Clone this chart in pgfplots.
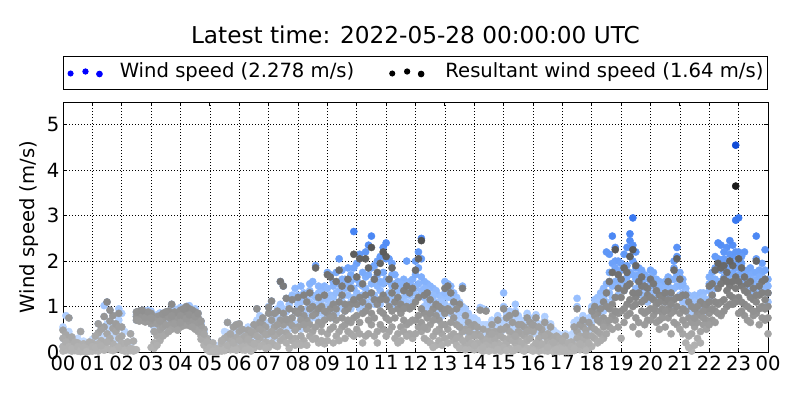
\documentclass[border=0pt]{standalone}
\usepackage{fontspec}
\setmainfont{DejaVu Sans}
\usepackage{pgfplots}
\usepackage{pgfplotstable}
\pgfplotsset{compat=1.18}

\newcommand\fs{\fontsize{19.6}{23.5}\selectfont}

% colour follows the value; point meta runs 0..8 on both maps
\pgfplotsset{
  colormap={wsgray}{rgb255(0cm)=(182,182,182) rgb255(1cm)=(100,100,100) rgb255(2cm)=(10,10,10)
    rgb255(3cm)=(0,0,0) rgb255(4cm)=(0,0,0)},
  colormap={wsblue}{rgb255(0cm)=(205,225,255) rgb255(1cm)=(173,205,255) rgb255(2cm)=(129,176,252)
    rgb255(3cm)=(83,142,246) rgb255(4cm)=(45,110,237) rgb255(5cm)=(27,89,224) rgb255(6cm)=(11,68,211)
    rgb255(7cm)=(0,50,200) rgb255(8cm)=(0,50,200) rgb255(9cm)=(0,50,200) rgb255(10cm)=(0,50,200)},
  wsmark/.style={scatter, only marks, mark=*, mark size=3.6pt,
    scatter/use mapped color={draw=mapped color, fill=mapped color}},
}

% resultant wind speed, four readings per 6 minutes
\pgfplotstableread{
x a b c d
0.0 0.02 0.48 0.12 0.30
0.1 0.10 0.04 0.38 0.22
0.2 0.05 0.28 0.75 0.12
0.3 0.18 0.02 0.33 0.08
0.4 0.03 0.14 0.06 0.22
0.5 0.08 0.20 0.02 0.12
0.6 0.01 0.10 0.45 0.04
0.7 0.06 0.02 0.18 0.11
0.8 0.12 0.04 0.08 0.01
0.9 0.02 0.15 0.05 0.22
1.0 0.05 0.20 0.02 0.12
1.1 0.15 0.03 0.35 0.10
1.2 0.02 0.42 0.18 0.62
1.3 0.25 0.06 0.50 0.14
1.4 0.10 0.55 0.04 0.78
1.5 0.40 0.08 1.10 0.22
1.6 0.05 0.68 0.30 0.92
1.7 0.52 0.18 0.80 0.03
1.8 0.12 0.45 0.06 0.62
1.9 0.30 0.85 0.10 0.55
2.0 0.20 0.04 0.55 0.35
2.1 0.06 0.02 0.18 0.04
2.2 0.03 0.05 0.22 0.02
2.3 0.05 0.40 0.03 0.08
2.4 0.02 0.06 0.04 0.24
2.5 0.78 0.05 0.88 0.70
2.6 0.85 0.72 0.90 0.68
2.7 0.70 0.88 0.78 0.92
2.8 0.82 0.66 0.86 0.76
2.9 0.74 0.84 0.68 0.88
3.0 0.62 0.85 0.10 0.75
3.1 0.20 0.70 0.45 0.08
3.2 0.78 0.35 0.62 0.15
3.3 0.48 0.80 0.25 0.68
3.4 0.72 0.55 0.85 0.35
3.5 0.40 0.82 0.60 0.88
3.6 0.90 0.58 0.76 0.45
3.7 0.65 1.05 0.50 0.80
3.8 0.78 0.55 0.88 0.62
3.9 0.60 0.85 0.72 0.48
4.0 0.92 0.55 0.80 0.65
4.1 0.70 0.88 0.58 0.95
4.2 0.85 0.60 1.00 0.74
4.3 0.58 0.95 0.68 0.82
4.4 0.80 0.66 0.92 0.55
4.5 0.62 0.88 0.50 0.78
4.6 0.75 0.45 0.65 0.85
4.7 0.35 0.58 0.28 0.68
4.8 0.50 0.22 0.40 0.15
4.9 0.12 0.30 0.05 0.22
5.0 0.02 0.06 0.01 0.10
5.1 0.04 0.01 0.20 0.02
5.2 0.01 0.03 0.08 0.02
5.3 0.03 0.06 0.02 0.04
5.4 0.05 0.18 0.02 0.25
5.5 0.12 0.03 0.30 0.06
5.6 0.35 0.08 0.65 0.15
5.7 0.05 0.25 0.12 0.40
5.8 0.28 0.55 0.06 0.20
5.9 0.10 0.32 0.60 0.04
6.0 0.45 0.08 0.62 0.25
6.1 0.05 0.30 0.12 0.50
6.2 0.25 0.10 0.35 0.04
6.3 0.15 0.48 0.06 0.28
6.4 0.38 0.02 0.22 0.45
6.5 0.08 0.42 0.60 0.18
6.6 0.55 0.20 0.95 0.35
6.7 0.30 0.65 0.12 0.50
6.8 0.60 0.15 0.45 0.75
6.9 0.22 0.55 0.38 0.08
7.0 0.40 0.85 0.10 0.98
7.1 0.70 0.20 1.12 0.45
7.2 0.15 0.55 0.35 0.85
7.3 0.90 0.40 0.12 0.60
7.4 0.25 1.55 0.70 0.45
7.5 0.60 0.30 1.45 0.85
7.6 0.42 1.18 0.20 0.72
7.7 0.08 0.65 0.95 0.35
7.8 0.75 0.25 0.58 1.15
7.9 0.30 0.90 0.48 0.15
8.0 0.55 1.20 0.20 0.85
8.1 0.95 0.35 0.70 0.15
8.2 0.25 0.80 1.25 0.60
8.3 0.70 0.15 0.50 1.10
8.4 1.30 0.60 0.35 0.95
8.5 0.45 1.00 0.80 0.28
8.6 0.85 0.30 1.85 0.55
8.7 0.20 0.95 0.65 1.20
8.8 0.60 0.45 1.00 0.25
8.9 1.25 0.70 0.18 0.90
9.0 0.40 1.70 0.85 0.25
9.1 0.95 0.50 1.65 0.75
9.2 0.20 0.80 1.05 0.55
9.3 0.70 1.55 0.35 0.95
9.4 1.10 0.45 1.80 0.25
9.5 0.55 1.25 0.75 1.45
9.6 0.90 0.30 0.60 1.05
9.7 0.45 1.60 0.95 0.70
9.8 1.05 0.65 0.40 1.40
9.9 0.75 2.15 1.15 0.35
10.0 0.50 1.05 1.65 0.80
10.1 1.20 0.40 2.05 0.65
10.2 0.85 1.50 0.20 1.10
10.3 0.35 0.90 1.25 2.05
10.4 1.00 0.70 1.85 0.40
10.5 0.60 2.30 0.85 1.30
10.6 1.15 0.35 0.75 1.60
10.7 0.45 1.05 1.75 0.20
10.8 0.90 1.95 0.60 1.15
10.9 1.25 0.50 2.20 0.85
11.0 0.75 2.10 0.35 1.15
11.1 1.00 0.45 1.60 0.70
11.2 0.55 1.85 0.90 1.30
11.3 1.10 0.30 0.75 1.45
11.4 0.40 0.95 1.20 0.20
11.5 0.85 0.55 0.25 1.05
11.6 1.35 0.70 0.45 0.95
11.7 0.60 1.45 1.00 0.35
11.8 0.95 0.40 1.30 0.65
11.9 0.30 1.00 0.70 1.40
12.0 0.70 1.80 0.40 1.10
12.1 1.20 0.55 2.05 0.80
12.2 0.45 2.45 0.95 0.65
12.3 0.85 0.30 1.25 0.55
12.4 0.25 0.75 0.50 1.30
12.5 0.60 1.15 0.20 0.85
12.6 0.95 0.35 0.70 0.10
12.7 0.15 0.80 1.05 0.45
12.8 0.70 0.25 0.50 1.00
12.9 0.40 0.95 0.15 0.60
13.0 0.85 1.40 0.30 0.60
13.1 0.50 0.95 1.45 0.20
13.2 1.30 0.35 0.65 0.90
13.3 0.25 0.75 1.10 0.40
13.4 0.60 0.15 0.95 0.30
13.5 0.35 1.05 0.08 0.55
13.6 0.10 0.45 1.40 0.25
13.7 0.50 0.20 0.80 0.05
13.8 0.15 0.65 0.30 0.45
13.9 0.40 0.08 0.55 0.20
14.0 0.05 0.35 0.60 0.15
14.1 0.40 0.10 0.20 0.55
14.2 0.18 0.92 0.05 0.35
14.3 0.28 0.02 0.50 0.10
14.4 0.04 0.25 0.15 0.90
14.5 0.35 0.12 0.45 0.02
14.6 0.10 0.60 0.25 0.40
14.7 0.45 0.03 0.30 0.15
14.8 0.20 0.38 0.70 0.06
14.9 0.02 0.15 0.35 0.50
15.0 0.30 0.95 0.10 0.50
15.1 0.55 0.20 0.75 0.03
15.2 0.08 0.45 0.30 0.80
15.3 0.40 0.02 0.65 0.25
15.4 0.18 0.85 0.05 0.35
15.5 0.60 0.25 0.45 0.08
15.6 0.05 0.40 0.20 0.60
15.7 0.35 0.12 0.55 0.02
15.8 0.25 0.75 0.08 0.45
15.9 0.50 0.05 0.30 0.65
16.0 0.12 0.45 0.02 0.60
16.1 0.55 0.08 0.75 0.20
16.2 0.02 0.30 0.15 0.55
16.3 0.40 0.05 0.50 0.18
16.4 0.15 0.65 0.03 0.35
16.5 0.25 0.02 0.40 0.10
16.6 0.05 0.35 0.18 0.55
16.7 0.30 0.08 0.22 0.01
16.8 0.02 0.18 0.35 0.06
16.9 0.12 0.01 0.08 0.30
17.0 0.02 0.15 0.05 0.25
17.1 0.08 0.01 0.35 0.04
17.2 0.01 0.10 0.03 0.20
17.3 0.05 0.22 0.02 0.12
17.4 0.15 0.03 0.55 0.08
17.5 0.45 0.95 0.10 0.30
17.6 0.05 0.35 0.60 0.18
17.7 0.55 0.15 0.28 0.70
17.8 0.22 0.48 0.03 0.38
17.9 0.35 0.08 0.65 0.20
18.0 0.55 0.12 0.90 0.35
18.1 0.30 0.80 0.50 1.00
18.2 0.85 0.45 0.20 0.70
18.3 0.40 0.95 0.65 0.25
18.4 0.75 0.30 1.10 0.55
18.5 1.30 0.65 0.40 1.00
18.6 0.55 1.55 0.95 0.70
18.7 1.05 0.80 1.75 0.50
18.8 0.70 2.25 1.20 0.90
18.9 1.40 0.85 0.55 1.70
19.0 0.90 1.60 0.30 1.20
19.1 1.35 0.65 1.85 0.95
19.2 0.80 1.45 1.05 1.75
19.3 1.50 2.10 0.85 1.15
19.4 1.00 0.55 2.25 1.30
19.5 1.20 1.90 0.75 1.05
19.6 0.65 1.30 1.55 0.40
19.7 1.45 0.90 1.10 1.65
19.8 0.85 1.15 0.60 1.45
19.9 1.25 0.70 1.40 0.90
20.0 0.95 1.60 0.70 1.20
20.1 1.15 0.80 1.50 0.95
20.2 0.65 1.05 0.90 1.35
20.3 1.25 0.70 1.10 0.50
20.4 0.85 1.20 0.95 0.75
20.5 1.10 0.55 1.30 0.90
20.6 0.75 1.55 0.95 1.15
20.7 1.30 0.85 0.40 1.05
20.8 0.90 1.80 1.15 0.65
20.9 1.20 0.60 2.05 1.00
21.0 0.85 1.60 0.50 1.20
21.1 1.25 0.40 0.95 0.70
21.2 0.20 0.90 0.60 1.25
21.3 0.75 0.10 1.10 0.35
21.4 0.02 0.65 0.40 1.00
21.5 0.55 0.95 0.15 0.75
21.6 0.85 0.30 0.65 1.00
21.7 0.45 1.10 0.80 0.20
21.8 1.05 0.60 0.90 0.75
21.9 0.70 0.95 0.50 1.05
22.0 0.85 1.45 0.60 1.10
22.1 1.25 0.70 1.50 0.95
22.2 0.90 1.80 1.10 0.65
22.3 1.40 1.05 1.95 0.85
22.4 1.10 1.85 0.80 1.50
22.5 1.60 1.15 1.90 0.90
22.6 1.00 1.75 1.35 1.55
22.7 1.45 1.05 2.00 1.25
22.8 1.20 1.90 1.55 1.05
22.9 1.65 1.10 3.65 1.40
23.0 1.20 2.05 0.85 1.55
23.1 1.45 0.90 1.85 1.10
23.2 0.80 1.35 1.05 1.65
23.3 1.30 0.70 1.50 1.00
23.4 0.95 1.55 0.65 1.20
23.5 1.15 0.80 1.40 0.90
23.6 0.85 2.00 1.10 1.25
23.7 1.25 0.60 0.95 1.45
23.8 1.00 1.30 1.55 0.75
23.9 0.70 1.60 1.15 0.95
24.0 0.40 1.00 1.30 0.75
}\rwsdata

% wind speed, four readings per 6 minutes
\pgfplotstableread{
x a b c d
0.0 0.30 0.55 0.12 0.50
0.1 0.22 0.80 0.40 0.10
0.2 0.45 0.28 0.75 0.05
0.3 0.33 0.18 0.10 0.25
0.4 0.14 0.22 0.06 0.10
0.5 0.20 0.30 0.08 0.12
0.6 0.45 0.10 0.16 0.04
0.7 0.18 0.24 0.06 0.11
0.8 0.19 0.12 0.08 0.04
0.9 0.22 0.15 0.09 0.05
1.0 0.28 0.20 0.12 0.05
1.1 0.35 0.22 0.15 0.10
1.2 0.62 0.42 0.28 0.18
1.3 0.50 0.35 0.25 0.14
1.4 0.78 1.02 0.55 0.30
1.5 1.10 0.62 0.40 0.22
1.6 0.92 0.68 0.48 0.30
1.7 0.80 0.60 0.52 0.36
1.8 0.62 0.45 0.38 0.25
1.9 0.85 0.95 0.70 0.55
2.0 0.85 0.55 0.35 0.20
2.1 0.45 0.18 0.08 0.06
2.2 0.22 0.12 0.06 0.05
2.3 0.40 0.20 0.08 0.05
2.4 0.24 0.06 0.05 0.04
2.5 0.88 0.82 0.78 0.70
2.6 0.90 0.85 0.80 0.76
2.7 0.92 0.88 0.84 0.78
2.8 0.90 0.86 0.82 0.76
2.9 0.92 0.88 0.84 0.78
3.0 0.90 0.85 0.75 0.62
3.1 0.78 0.70 0.55 0.45
3.2 0.82 0.78 0.62 0.50
3.3 0.86 0.80 0.68 0.48
3.4 0.85 0.72 0.66 0.55
3.5 0.88 0.82 0.75 0.60
3.6 0.90 0.84 0.76 0.68
3.7 1.05 0.92 0.80 0.72
3.8 0.95 0.88 0.78 0.70
3.9 0.90 0.85 0.80 0.72
4.0 0.98 0.92 0.80 0.72
4.1 0.95 0.88 0.76 0.70
4.2 1.00 0.90 0.85 0.74
4.3 1.02 0.95 0.82 0.75
4.4 0.92 0.86 0.80 0.72
4.5 0.95 0.88 0.78 0.70
4.6 0.85 0.75 0.65 0.55
4.7 0.68 0.62 0.58 0.48
4.8 0.50 0.45 0.40 0.32
4.9 0.30 0.22 0.18 0.12
5.0 0.10 0.06 0.04 0.03
5.1 0.20 0.05 0.04 0.03
5.2 0.12 0.08 0.03 0.02
5.3 0.15 0.06 0.04 0.03
5.4 0.25 0.18 0.08 0.05
5.5 0.45 0.30 0.20 0.12
5.6 0.65 0.42 0.35 0.15
5.7 0.40 0.25 0.18 0.12
5.8 0.55 0.38 0.28 0.20
5.9 0.60 0.45 0.32 0.18
6.0 0.62 0.45 0.35 0.25
6.1 0.50 0.30 0.20 0.12
6.2 0.40 0.35 0.25 0.18
6.3 0.55 0.48 0.28 0.15
6.4 0.45 0.38 0.30 0.22
6.5 0.60 0.42 0.30 0.18
6.6 0.95 0.70 0.62 0.55
6.7 0.80 0.65 0.50 0.30
6.8 0.75 0.60 0.45 0.35
6.9 0.65 0.55 0.45 0.38
7.0 0.98 0.60 1.00 0.35
7.1 0.70 1.12 0.45 0.85
7.2 0.55 0.85 0.30 0.65
7.3 0.95 0.50 0.75 0.40
7.4 1.05 0.45 1.55 0.70
7.5 0.85 1.45 0.60 0.95
7.6 1.18 0.72 0.55 0.88
7.7 0.65 1.05 0.50 0.95
7.8 1.25 0.75 1.15 0.68
7.9 0.90 1.40 0.62 1.20
8.0 1.05 0.60 1.25 0.95
8.1 0.75 1.45 1.10 0.50
8.2 1.30 0.90 0.65 1.20
8.3 0.95 1.15 0.55 0.80
8.4 1.50 0.70 1.10 1.35
8.5 1.05 1.25 0.85 1.55
8.6 1.20 1.90 0.75 1.00
8.7 0.85 1.30 1.05 1.45
8.8 1.35 0.95 1.15 0.70
8.9 1.00 1.45 0.80 1.25
9.0 1.75 1.15 0.90 1.40
9.1 1.25 0.85 1.70 1.05
9.2 1.45 1.20 0.75 1.55
9.3 1.00 1.75 1.30 0.85
9.4 2.05 1.35 1.10 1.50
9.5 1.20 1.60 0.95 1.80
9.6 1.40 1.05 1.60 0.90
9.7 1.85 1.25 1.00 1.50
9.8 1.10 1.55 1.70 0.95
9.9 2.65 1.40 1.20 1.85
10.0 1.30 1.95 1.05 1.60
10.1 2.15 1.15 1.50 0.95
10.2 1.00 1.45 1.75 1.25
10.3 1.65 2.20 1.10 1.40
10.4 2.35 1.30 1.70 1.05
10.5 1.50 2.55 1.20 1.85
10.6 1.25 1.60 1.90 1.05
10.7 2.00 1.15 1.45 1.70
10.8 1.35 2.10 1.05 1.55
10.9 2.30 1.50 1.75 1.20
11.0 1.60 2.40 1.25 2.05
11.1 2.05 1.30 1.55 1.10
11.2 1.45 1.95 1.20 1.70
11.3 1.15 1.50 1.70 1.00
11.4 1.55 1.05 1.35 1.20
11.5 1.10 1.40 1.50 0.95
11.6 1.60 1.20 1.00 1.35
11.7 2.00 1.30 1.50 1.10
11.8 1.25 1.55 1.05 1.40
11.9 1.45 1.10 1.60 1.30
12.0 2.00 1.40 1.70 1.15
12.1 1.50 2.20 1.25 1.85
12.2 2.50 1.35 1.65 2.05
12.3 1.20 1.55 1.00 1.40
12.4 1.50 1.10 1.35 0.90
12.5 1.00 1.45 1.25 0.85
12.6 1.40 0.95 1.15 1.25
12.7 0.90 1.35 1.05 0.75
12.8 1.25 0.85 1.10 0.70
12.9 0.80 1.20 0.95 1.10
13.0 1.55 1.05 1.30 0.85
13.1 1.20 1.50 0.95 1.40
13.2 1.45 0.85 1.20 1.00
13.3 0.95 1.30 0.75 1.10
13.4 1.20 0.80 1.00 0.65
13.5 0.70 1.10 0.90 0.55
13.6 1.45 0.65 0.85 1.00
13.7 0.60 0.95 0.75 0.45
13.8 0.85 0.50 0.65 0.40
13.9 0.55 0.75 0.40 0.60
14.0 0.75 0.65 0.55 0.45
14.1 0.70 0.60 0.55 0.45
14.2 0.98 0.60 0.50 0.40
14.3 0.95 0.60 0.55 0.40
14.4 0.92 0.60 0.50 0.40
14.5 0.60 0.50 0.45 0.35
14.6 0.70 0.65 0.55 0.45
14.7 0.65 0.60 0.50 0.45
14.8 0.80 0.75 0.55 0.45
14.9 0.60 0.55 0.50 0.40
15.0 1.30 1.00 0.70 0.55
15.1 0.85 0.80 0.60 0.50
15.2 0.90 0.85 0.65 0.55
15.3 0.75 0.70 0.55 0.45
15.4 1.05 0.90 0.65 0.55
15.5 0.80 0.75 0.65 0.55
15.6 0.70 0.65 0.55 0.45
15.7 0.65 0.60 0.50 0.40
15.8 0.85 0.80 0.65 0.50
15.9 0.75 0.70 0.55 0.45
16.0 0.70 0.65 0.50 0.40
16.1 0.82 0.78 0.60 0.50
16.2 0.62 0.58 0.45 0.35
16.3 0.60 0.55 0.45 0.35
16.4 0.78 0.70 0.55 0.45
16.5 0.52 0.45 0.35 0.25
16.6 0.62 0.58 0.45 0.35
16.7 0.48 0.42 0.35 0.25
16.8 0.42 0.38 0.30 0.20
16.9 0.38 0.32 0.25 0.15
17.0 0.30 0.25 0.18 0.10
17.1 0.40 0.35 0.25 0.15
17.2 0.25 0.22 0.15 0.10
17.3 0.38 0.32 0.25 0.15
17.4 0.65 0.58 0.45 0.30
17.5 1.18 1.00 0.70 0.50
17.6 0.70 0.62 0.55 0.40
17.7 0.80 0.72 0.60 0.45
17.8 0.65 0.60 0.50 0.40
17.9 0.75 0.68 0.55 0.45
18.0 0.80 1.00 0.65 0.95
18.1 1.15 0.75 1.05 0.90
18.2 0.95 1.20 0.80 1.10
18.3 1.30 0.85 1.15 1.00
18.4 1.05 1.40 0.90 1.20
18.5 1.50 1.10 2.20 1.30
18.6 1.30 2.15 1.55 1.75
18.7 2.55 1.45 1.95 1.20
18.8 1.55 2.00 2.30 1.85
18.9 2.00 1.45 1.70 1.25
19.0 1.40 1.95 1.60 1.80
19.1 2.15 1.55 1.85 1.35
19.2 1.65 2.30 1.90 1.45
19.3 2.60 1.75 2.45 2.10
19.4 2.00 2.95 1.70 2.35
19.5 1.60 2.20 1.85 1.40
19.6 1.85 1.35 1.55 1.70
19.7 1.40 1.80 1.25 1.55
19.8 1.70 1.25 1.45 1.60
19.9 1.25 1.65 1.40 1.10
20.0 1.80 1.30 1.50 1.65
20.1 1.45 1.75 1.20 1.60
20.2 1.60 1.20 1.35 1.05
20.3 1.15 1.55 1.30 1.45
20.4 1.50 1.15 1.40 1.25
20.5 1.10 1.45 1.55 1.30
20.6 1.65 1.25 1.45 1.60
20.7 1.20 1.60 1.40 1.00
20.8 2.00 1.40 1.85 1.60
20.9 1.45 2.30 1.70 2.10
21.0 1.75 1.25 1.65 1.45
21.1 1.30 1.60 1.10 1.50
21.2 1.40 0.95 1.15 1.30
21.3 0.85 1.25 1.00 1.15
21.4 1.20 0.80 1.05 0.95
21.5 1.00 1.25 0.85 1.10
21.6 1.20 0.95 1.05 0.85
21.7 0.90 1.30 1.15 1.05
21.8 1.30 1.10 0.95 1.20
21.9 1.00 1.15 1.10 0.90
22.0 1.50 1.15 1.65 1.35
22.1 1.25 1.75 1.45 1.60
22.2 2.10 1.40 1.85 1.60
22.3 1.55 2.40 1.85 2.05
22.4 2.35 1.55 2.00 1.80
22.5 1.65 2.20 1.90 2.05
22.6 2.30 1.60 2.00 1.85
22.7 1.70 2.45 1.95 2.15
22.8 2.35 1.75 2.10 1.95
22.9 4.55 2.90 1.85 2.20
23.0 2.20 2.95 1.70 1.95
23.1 1.55 2.10 1.80 1.95
23.2 2.20 1.45 1.60 1.75
23.3 1.35 1.80 1.50 1.65
23.4 1.85 1.35 1.70 1.55
23.5 1.30 1.75 1.45 1.60
23.6 2.55 1.50 2.05 1.75
23.7 1.35 1.80 1.50 1.65
23.8 1.95 1.40 1.75 1.60
23.9 1.40 2.25 1.60 1.80
24.0 1.60 1.10 1.45 1.30
}\wsdata

\begin{document}
\begin{tikzpicture}
\useasboundingbox (0,0) rectangle (800pt,400pt);
\node[font=\fontsize{23.2}{27}\selectfont] at (415.5pt,365pt) {Latest time: 2022-05-28 00:00:00 UTC};
\begin{axis}[
  at={(63pt,48pt)}, anchor=south west,
  scale only axis, width=705pt, height=250pt,
  xmin=0, xmax=24, ymin=0, ymax=5.5,
  point meta min=0, point meta max=8,
  xtick={0,...,24},
  xticklabels={00,01,02,03,04,05,06,07,08,09,10,11,12,13,14,15,16,17,18,19,20,21,22,23,00},
  ytick={0,1,2,3,4,5},
  /pgf/number format/assume math mode=true,
  tick label style={font=\fs},
  ylabel={Wind speed (m/s)},
  every axis y label/.style={at={(axis description cs:-0.0482,0.5)}, anchor=center, rotate=90, font=\fs},
  axis line style={line width=1pt},
  tick align=inside, major tick length=4pt,
  major tick style={black, line width=0.8pt},
  grid=major,
  grid style={black, line width=0.6pt, dash pattern=on 1pt off 2pt},
  legend columns=2,
  legend cell align=left,
  legend style={at={(0.5,1.118)}, anchor=center, draw=black, line width=1pt,
    inner xsep=4pt, inner ysep=7pt, font=\fs,
    nodes={inner sep=0pt, text height=14pt, text depth=5pt},
    /tikz/column 1/.style={column sep=17pt},
    /tikz/column 2/.style={column sep=35pt},
    /tikz/column 3/.style={column sep=21pt}},
]
\addplot[wsmark, colormap name=wsblue,
  legend image code/.code={\fill[blue] (2.6pt,-1pt) circle[radius=2.5pt] (17.5pt,1pt) circle[radius=2.6pt] (31.5pt,-1.5pt) circle[radius=2.8pt];}]
  table[x=x, y=a] {\wsdata};
\addlegendentry{Wind speed (2.278 m/s)}
\addplot[wsmark, colormap name=wsblue, forget plot] table[x=x, y=b] {\wsdata};
\addplot[wsmark, colormap name=wsblue, forget plot] table[x=x, y=c] {\wsdata};
\addplot[wsmark, colormap name=wsblue, forget plot] table[x=x, y=d] {\wsdata};
\addplot[wsmark, colormap name=wsgray,
  legend image code/.code={\fill[black] (2.6pt,-1pt) circle[radius=2.5pt] (17.5pt,1pt) circle[radius=2.6pt] (31.5pt,-1.5pt) circle[radius=2.8pt];}]
  table[x=x, y=a] {\rwsdata};
\addlegendentry{Resultant wind speed (1.64 m/s)}
\addplot[wsmark, colormap name=wsgray, forget plot] table[x=x, y=b] {\rwsdata};
\addplot[wsmark, colormap name=wsgray, forget plot] table[x=x, y=c] {\rwsdata};
\addplot[wsmark, colormap name=wsgray, forget plot] table[x=x, y=d] {\rwsdata};
\end{axis}
\end{tikzpicture}
\end{document}
